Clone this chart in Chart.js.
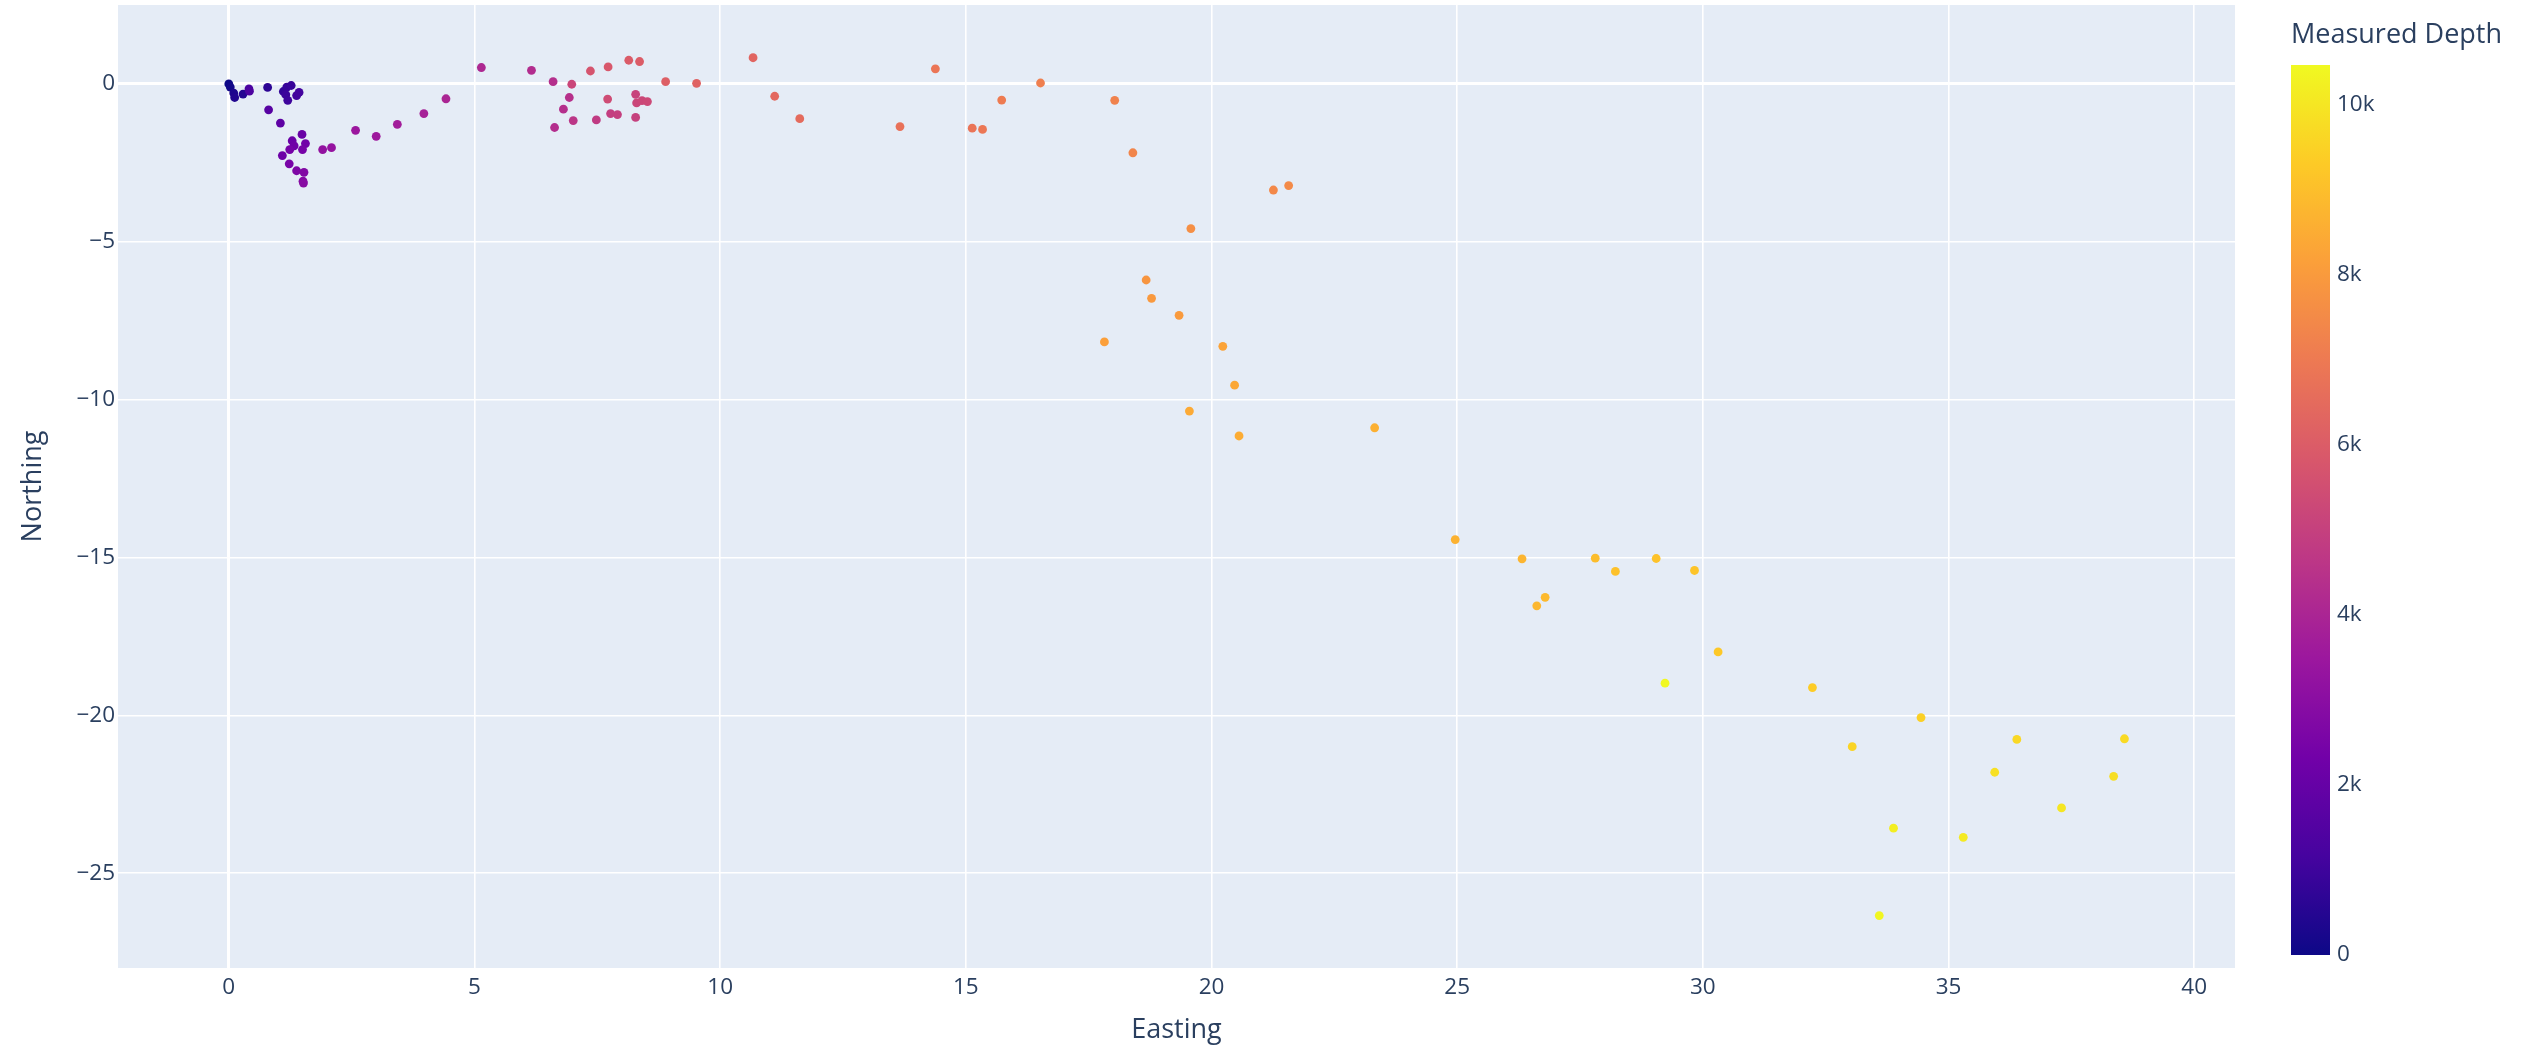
<!DOCTYPE html>
<html>
<head>
<meta charset="utf-8">
<script src="https://cdn.jsdelivr.net/npm/chart.js@4.4.1/dist/chart.umd.min.js"></script>
<style>
html,body{margin:0;padding:0;background:#ffffff;overflow:hidden}
#wrap{width:2539px;height:1049px;position:relative}
</style>
</head>
<body>
<div id="wrap"><canvas id="c"></canvas></div>
<script>
// ---- data ----
const easting = [
  0.00,0.03,0.10,0.12,0.29,0.79,1.11,1.18,1.27,1.16,
  1.20,1.38,1.43,0.41,0.42,0.81,1.05,1.49,1.29,1.56,
  1.33,1.24,1.50,1.09,1.23,1.38,1.53,1.51,1.52,1.91,
  2.09,2.58,3.00,3.43,3.97,4.42,5.14,6.16,6.60,6.93,
  6.81,6.63,7.01,7.48,7.77,7.91,8.28,8.28,8.30,8.41,
  8.52,6.98,7.71,7.36,7.72,8.14,8.36,8.89,9.52,10.67,
  11.11,11.62,13.66,14.38,15.13,15.34,15.73,16.52,18.03,18.40,
  21.26,21.57,19.58,18.67,18.78,19.34,17.82,20.23,20.47,19.55,
  20.56,23.32,24.96,26.32,26.62,26.79,27.81,28.22,29.05,29.83,
  30.31,29.23,32.23,34.44,33.04,36.39,38.58,35.94,38.36,37.30,
  33.88,35.30,33.59
];
const northing = [
  0.00,-0.10,-0.29,-0.43,-0.32,-0.11,-0.24,-0.10,-0.05,-0.34,
  -0.52,-0.37,-0.27,-0.16,-0.23,-0.82,-1.24,-1.60,-1.80,-1.89,
  -1.96,-2.08,-2.08,-2.27,-2.53,-2.75,-2.80,-3.08,-3.14,-2.08,
  -2.02,-1.47,-1.66,-1.28,-0.94,-0.47,0.52,0.43,0.07,-0.43,
  -0.80,-1.38,-1.16,-1.14,-0.94,-0.97,-1.06,-0.33,-0.60,-0.53,
  -0.56,-0.01,-0.48,0.41,0.54,0.75,0.71,0.07,0.02,0.83,
  -0.39,-1.10,-1.35,0.48,-1.40,-1.44,-0.51,0.03,-0.52,-2.18,
  -3.36,-3.22,-4.58,-6.21,-6.79,-7.33,-8.17,-8.31,-9.54,-10.36,
  -11.15,-10.89,-14.43,-15.04,-16.53,-16.26,-15.02,-15.44,-15.03,-15.41,
  -17.99,-18.98,-19.12,-20.07,-20.99,-20.76,-20.74,-21.80,-21.93,-22.93,
  -23.57,-23.86,-26.34
];
const measuredDepth = [
  0,100,300,400,500,650,800,850,900,950,
  1000,1050,1100,1300,1350,1600,1800,2100,2150,2300,
  2250,2400,2450,2200,2500,2650,2750,2850,2900,3200,
  3300,3450,3550,3700,3850,4000,4100,4250,4350,4400,
  4350,4300,4600,4800,4900,4950,5000,5100,5200,5250,
  5300,5200,5400,5700,5800,5950,6000,6100,6200,6300,
  6400,6500,6700,6850,6800,6900,7050,7150,7250,7350,
  7450,7500,7650,7850,7950,8000,8150,8250,8350,8450,
  8500,8600,8650,8750,8800,8850,8950,9050,9100,9150,
  9250,10450,9350,9450,9550,9650,9700,9850,9800,10000,
  10200,10100,10400
];
const xTickValues = [0,5,10,15,20,25,30,35,40];
const yTickValues = [0,-5,-10,-15,-20,-25];
const colorbarTickValues = [0,2000,4000,6000,8000,10000];
const colorbarTickLabels = ['0','2k','4k','6k','8k','10k'];
const depthRange = [0, 10470];
const xRange = [-2.255, 40.83];
const yRange = [-28.0, 2.5];
const xTitle = 'Easting';
const yTitle = 'Northing';
const colorbarTitle = 'Measured Depth';
const plasma = ['#0d0887','#46039f','#7201a8','#9c179e','#bd3786','#d8576b','#ed7953','#fb9f3a','#fdca26','#f0f921'];

// ---- helpers ----
const FONT = '"Open Sans", "Noto Sans", sans-serif';
const TXT = '#2a3f5f';
function hexToRgb(h){ return [parseInt(h.slice(1,3),16),parseInt(h.slice(3,5),16),parseInt(h.slice(5,7),16)]; }
const plasmaRgb = plasma.map(hexToRgb);
function colorFor(v){
  let t = (v - depthRange[0]) / (depthRange[1] - depthRange[0]);
  t = Math.max(0, Math.min(1, t));
  const p = t * (plasmaRgb.length - 1);
  const i = Math.min(Math.floor(p), plasmaRgb.length - 2);
  const f = p - i;
  const a = plasmaRgb[i], b = plasmaRgb[i+1];
  return 'rgb(' + [0,1,2].map(k => Math.round(a[k] + (b[k]-a[k])*f)).join(',') + ')';
}
function fmt(v){ return String(v).replace('-', '\u2212'); }

const points = easting.map((x, i) => ({x: x, y: northing[i]}));
const pointColors = measuredDepth.map(colorFor);

const plotBg = {
  id: 'plotBg',
  beforeDraw(chart){
    const {ctx, chartArea: a} = chart;
    ctx.save();
    ctx.fillStyle = '#e5ecf6';
    ctx.fillRect(a.left, a.top, a.right - a.left, a.bottom - a.top);
    ctx.restore();
  }
};

const colorbar = {
  id: 'colorbar',
  afterDraw(chart){
    const ctx = chart.ctx;
    const a = chart.chartArea;
    const x = a.right + 56, w = 39, top = 65, bottom = 955;
    ctx.save();
    const g = ctx.createLinearGradient(0, bottom, 0, top);
    plasma.forEach((c, i) => g.addColorStop(i / (plasma.length - 1), c));
    ctx.fillStyle = g;
    ctx.fillRect(x, top, w, bottom - top);
    ctx.fillStyle = TXT;
    ctx.font = '22.5px ' + FONT;
    ctx.textAlign = 'left';
    ctx.textBaseline = 'middle';
    colorbarTickValues.forEach((v, i) => {
      const y = bottom - (v - depthRange[0]) / (depthRange[1] - depthRange[0]) * (bottom - top);
      ctx.fillText(colorbarTickLabels[i], x + w + 7, y);
    });
    ctx.font = '27px ' + FONT;
    ctx.fillText(colorbarTitle, x, 35);
    ctx.restore();
  }
};

new Chart(document.getElementById('c'), {
  type: 'scatter',
  data: {
    datasets: [{
      data: points,
      pointRadius: 4.4,
      pointHoverRadius: 4.4,
      pointBorderWidth: 0,
      pointBackgroundColor: pointColors,
      pointBorderColor: pointColors
    }]
  },
  options: {
    responsive: true,
    maintainAspectRatio: false,
    animation: false,
    devicePixelRatio: 1,
    layout: { autoPadding: false, padding: { left: 0, top: 5, right: 304, bottom: 0 } },
    plugins: { legend: { display: false }, tooltip: { enabled: false } },
    scales: {
      x: {
        type: 'linear',
        min: xRange[0], max: xRange[1],
        afterBuildTicks: s => { s.ticks = xTickValues.map(v => ({value: v})); },
        afterFit: s => { s.height = 81; s.paddingLeft = 0; s.paddingRight = 0; s.paddingTop = 0; s.paddingBottom = 0; },
        grid: {
          color: '#ffffff',
          lineWidth: c => (c.tick && c.tick.value === 0) ? 3 : 1.6,
          drawTicks: false
        },
        border: { display: false },
        ticks: {
          padding: 6,
          color: TXT,
          font: { family: FONT, size: 22.5 },
          callback: v => fmt(v),
          maxRotation: 0
        },
        title: {
          display: true, text: xTitle, color: TXT,
          font: { family: FONT, size: 27 },
          padding: { top: 0, bottom: 2 }
        }
      },
      y: {
        type: 'linear',
        min: yRange[0], max: yRange[1],
        afterBuildTicks: s => { s.ticks = yTickValues.map(v => ({value: v})); },
        afterFit: s => { s.width = 118; s.paddingLeft = 0; s.paddingRight = 0; s.paddingTop = 0; s.paddingBottom = 0; },
        grid: {
          color: '#ffffff',
          lineWidth: c => (c.tick && c.tick.value === 0) ? 3 : 1.6,
          drawTicks: false
        },
        border: { display: false },
        ticks: {
          padding: 3,
          color: TXT,
          font: { family: FONT, size: 22.5 },
          callback: v => fmt(v)
        },
        title: {
          display: true, text: yTitle, color: TXT,
          font: { family: FONT, size: 27 },
          padding: { top: 17, bottom: 0 }
        }
      }
    }
  },
  plugins: [plotBg, colorbar]
});
</script>
</body>
</html>
